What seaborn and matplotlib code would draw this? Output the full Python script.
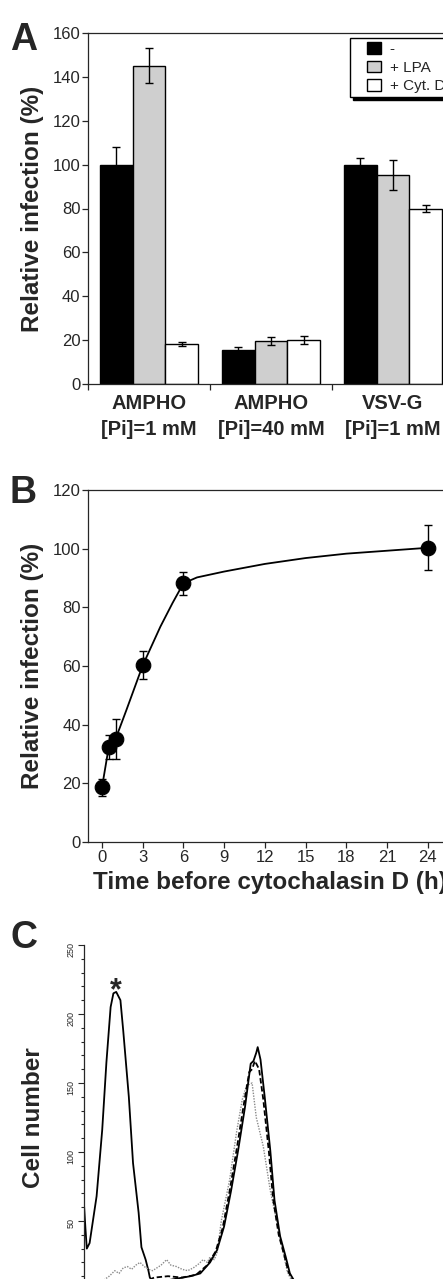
import numpy as np
import pandas as pd
import matplotlib
matplotlib.use("Agg")
import matplotlib.pyplot as plt
import matplotlib.patches as mpatches
import matplotlib.transforms as mtransforms
from matplotlib.ticker import MultipleLocator, FixedLocator
from matplotlib.legend_handler import HandlerPatch
import seaborn as sns

# ---------------- data ----------------
# Panel A
groups = ["AMPHO\n[Pi]=1 mM", "AMPHO\n[Pi]=40 mM", "VSV-G\n[Pi]=1 mM"]
treatments = ["-", "+ LPA", "+ Cyt. D"]
infection_ctrl = [100, 15.5, 100]
infection_lpa = [145, 19.5, 95.3]
infection_cytd = [18.2, 20, 80]
err_ctrl = [8, 1.2, 3]
err_lpa = [8, 1.7, 7]
err_cytd = [1, 1.7, 1.8]

# Panel B
hours = [0, 0.5, 1, 3, 6, 24]
rel_infection = [18.6, 32.4, 35.1, 60.2, 88.2, 100.3]
rel_err = [2.9, 4.2, 6.8, 4.8, 4.0, 7.7]
curve_hours = [0, 0.5, 1, 1.8, 3, 4.3, 5.2, 6, 7, 9, 12, 15, 18, 21, 24]
curve_values = [18.6, 32.4, 35.1, 45, 60.2, 73.4, 81.5, 88.2, 90.2, 92.2, 94.8, 96.8, 98.3, 99.3, 100.3]

# Panel C (flow cytometry histograms, channel vs cell number)
mock_channel = [0, 1, 2, 4, 9, 13, 16, 19, 21, 23, 26, 28, 32, 35, 39, 41, 44, 46, 47, 51, 58, 69, 83, 100, 130, 160, 200, 255]
mock_count = [62, 45, 30, 34, 68, 116, 165, 205, 215, 216, 210, 188, 140, 92, 56, 31, 22, 14, 9, 5, 3, 2, 1, 1, 0, 0, 0, 0]
solid_channel = [0, 20, 47, 54, 65, 76, 83, 90, 95, 100, 105, 110, 115, 119, 121, 123, 124, 126, 129, 133, 136, 140, 144, 147, 151, 161, 200, 255]
solid_count = [1, 2, 3, 6, 8, 10, 12, 20, 29, 46, 72, 101, 133, 164, 166, 172, 176, 167, 140, 101, 65, 39, 24, 12, 5, 2, 0, 0]
dashed_channel = [0, 20, 40, 50, 60, 70, 80, 88, 94, 99, 104, 109, 114, 118, 120, 122, 123, 125, 128, 132, 135, 139, 143, 146, 150, 160, 200, 255]
dashed_count = [1, 2, 4, 9, 10, 9, 11, 18, 28, 45, 72, 102, 134, 158, 160, 166, 164, 160, 138, 100, 66, 40, 25, 13, 6, 2, 0, 0]
dotted_channel = [0, 11, 18, 22, 25, 28, 31, 34, 37, 40, 43, 46, 49, 52, 55, 59, 62, 66, 70, 74, 78, 82, 85, 88, 90, 93, 95, 98,
                  104, 109, 113, 116, 120, 123, 128, 133, 140, 145, 147, 151, 160, 200, 255]
dotted_count = [1, 5, 10, 14, 12, 16, 17, 15, 18, 20, 17, 15, 14, 16, 18, 22, 18, 17, 15, 14, 16, 19, 22, 20, 24, 22, 27, 50,
                80, 115, 138, 148, 150, 125, 104, 72, 38, 14, 9, 5, 2, 0, 0]
count_ticks = [50, 100, 150, 200, 250]

# ---------------- style ----------------
sns.set_style("ticks")
plt.rcParams["font.family"] = ["Liberation Sans", "DejaVu Sans"]
plt.rcParams["axes.linewidth"] = 0.9

W, H = 443, 1279
fig = plt.figure(figsize=(W / 100, H / 100), dpi=100)
LABEL_FS = 17.5


def px_axes(left, top, right, bottom):
    return fig.add_axes([left / W, 1 - bottom / H, (right - left) / W, (bottom - top) / H])


def right_square(legend, orig_handle, xdescent, ydescent, width, height, fontsize):
    side = height * 1.2
    return mpatches.Rectangle((-xdescent + width - side, -ydescent), side, height)


# ---------------- Panel A ----------------
axA = px_axes(88, 33, 454, 384)
dfA = pd.DataFrame({
    "group": groups * 3,
    "treatment": [treatments[0]] * 3 + [treatments[1]] * 3 + [treatments[2]] * 3,
    "value": infection_ctrl + infection_lpa + infection_cytd,
})
palette = {"-": "black", "+ LPA": "#cfcfcf", "+ Cyt. D": "white"}
sns.barplot(data=dfA, x="group", y="value", hue="treatment", hue_order=treatments,
            order=groups, palette=palette, edgecolor="black", linewidth=1.0,
            width=0.81, errorbar=None, ax=axA, saturation=1)
for cont, errs in zip(axA.containers, [err_ctrl, err_lpa, err_cytd]):
    for bar, e in zip(cont, errs):
        axA.errorbar(bar.get_x() + bar.get_width() / 2, bar.get_height(), yerr=e,
                     fmt="none", ecolor="black", elinewidth=1.0, capsize=3, capthick=1.0)
axA.set_xlim(-0.5, 2.5)
axA.set_ylim(0, 160)
axA.yaxis.set_major_locator(MultipleLocator(20))
axA.xaxis.set_minor_locator(FixedLocator([-0.5, 0.5, 1.5, 2.5]))
axA.tick_params(axis="x", which="major", length=0, pad=7, labelsize=14.5)
axA.tick_params(axis="x", which="minor", length=4, width=0.9, direction="out")
axA.tick_params(axis="y", length=4, width=0.9, labelsize=12, pad=1.5)
for t in axA.get_xticklabels():
    t.set_fontweight("bold")
    t.set_linespacing(1.5)
axA.set_xlabel("")
axA.set_ylabel("Relative infection (%)", fontsize=LABEL_FS, fontweight="bold")
handles, labels = axA.get_legend_handles_labels()
leg = axA.legend(handles, labels, loc="upper left",
                 bbox_to_anchor=((350 - 88) / 366, (384 - 38) / 351),
                 frameon=True, fancybox=False, shadow={"color": "black", "alpha": 1.0},
                 fontsize=11, handlelength=1.75, handleheight=0.8, handletextpad=0.6,
                 labelspacing=0.3, borderpad=0.25, borderaxespad=0,
                 handler_map={mpatches.Rectangle: HandlerPatch(patch_func=right_square)})
leg.get_frame().set_edgecolor("black")
leg.get_frame().set_linewidth(1.0)

# ---------------- Panel B ----------------
axB = px_axes(88.4, 490, 455, 842)
sns.lineplot(x=curve_hours, y=curve_values, ax=axB, color="black", linewidth=1.3, sort=True)
axB.errorbar(hours, rel_infection, yerr=rel_err, fmt="none", ecolor="black",
             elinewidth=1.0, capsize=3, capthick=1.0, zorder=3)
sns.scatterplot(x=hours, y=rel_infection, ax=axB, color="black", s=110, edgecolor="black",
                zorder=4)
axB.set_xlim(-1, 26)
axB.set_ylim(0, 120)
axB.xaxis.set_major_locator(FixedLocator(list(range(0, 25, 3))))
axB.yaxis.set_major_locator(MultipleLocator(20))
axB.tick_params(axis="both", length=4, width=0.9, labelsize=12, pad=1.5)
axB.set_xlabel("Time before cytochalasin D (h)", fontsize=LABEL_FS, fontweight="bold")
axB.xaxis.set_label_coords(93 / W, 1 - 883 / H, transform=fig.transFigure)
axB.xaxis.label.set_ha("left")
axB.xaxis.label.set_va("center")
axB.set_ylabel("Relative infection (%)", fontsize=LABEL_FS, fontweight="bold")

# ---------------- Panel C ----------------
axC = px_axes(84, 945, 444, 1290)
sns.lineplot(x=mock_channel, y=mock_count, ax=axC, color="black", linewidth=1.3)
sns.lineplot(x=dotted_channel, y=dotted_count, ax=axC, color="#8a8a8a", linewidth=1.0,
             linestyle=(0, (1, 1)))
sns.lineplot(x=dashed_channel, y=dashed_count, ax=axC, color="black", linewidth=1.3,
             linestyle=(0, (3, 1.5)))
sns.lineplot(x=solid_channel, y=solid_count, ax=axC, color="black", linewidth=1.3)
axC.set_xlim(0, 257)
axC.set_ylim(0, 250)
axC.yaxis.set_major_locator(FixedLocator(count_ticks))
axC.yaxis.set_minor_locator(MultipleLocator(10))
axC.tick_params(axis="y", which="major", length=4, width=0.8, labelsize=6.5,
                labelrotation=90, pad=2)
axC.tick_params(axis="y", which="minor", length=2.5, width=0.8)
axC.tick_params(axis="x", length=0, labelbottom=False)
for s in ["top", "right", "bottom"]:
    axC.spines[s].set_visible(False)
axC.set_ylabel("Cell number", fontsize=LABEL_FS, fontweight="bold")
axC.annotate("*", xy=(22.5, 216), xytext=(0, -10), textcoords="offset points",
             ha="center", va="bottom", fontsize=22, fontweight="bold")

# y-label positions (same column for all panels)
for ax in (axA, axB, axC):
    tf = mtransforms.blended_transform_factory(fig.transFigure, ax.transAxes)
    ax.yaxis.set_label_coords(33 / W, 0.5, transform=tf)
    ax.yaxis.label.set_va("center")

# panel letters
for letter, base in (("A", 50), ("B", 503), ("C", 948)):
    fig.text(10 / W, 1 - base / H, letter, fontsize=27, fontweight="bold",
             ha="left", va="baseline")

fig.savefig("out.png", dpi=100)
